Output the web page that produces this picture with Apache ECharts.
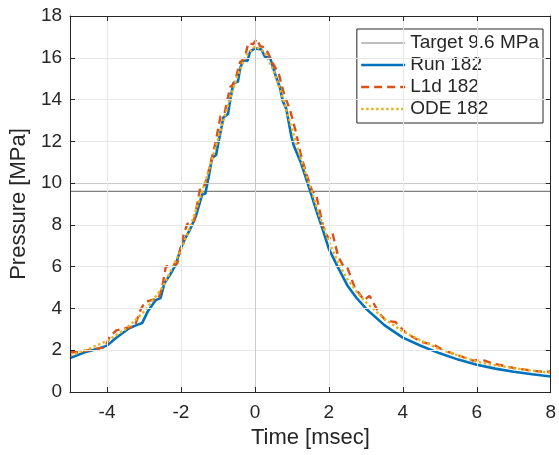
<!DOCTYPE html>
<html>
<head>
<meta charset="utf-8">
<script src="https://cdn.jsdelivr.net/npm/echarts@6/dist/echarts.min.js"></script>
<style>
  html, body { margin: 0; padding: 0; background: #fff; }
  #chart { width: 559px; height: 455px; }
</style>
</head>
<body>
<div id="chart"></div>
<script>
// Axis ranges and labelled ticks
const xRange = [-5, 8];
const yRange = [0, 18];
const xTicks = [-4, -2, 0, 2, 4, 6, 8];
const yTicks = [0, 2, 4, 6, 8, 10, 12, 14, 16, 18];
const xMinorStep = 0.5;
const yMinorStep = 0.4;

// Target pressure level
const targetName = 'Target 9.6 MPa';
const targetPressure = 9.6;

// Measured run
const runName = 'Run 182';
const runTime = [-5, -4.6, -4.2, -4.0, -3.75, -3.4, -3.2, -3.05, -2.9, -2.68, -2.55, -2.45, -2.3, -2.14, -2.0,
  -1.9, -1.75, -1.6, -1.5, -1.43, -1.34, -1.25, -1.16, -1.05, -0.98, -0.85, -0.73, -0.67, -0.58, -0.46,
  -0.4, -0.31, -0.2, -0.13, 0, 0.18, 0.27, 0.41, 0.54, 0.67, 0.76, 0.85, 0.99, 1.05, 1.25, 1.48, 1.66,
  1.83, 2.0, 2.25, 2.5, 2.75, 3.0, 3.5, 4.0, 4.5, 5.0, 5.5, 6.0, 6.5, 7.0, 7.5, 8.0];
const runPressure = [1.62, 1.9, 2.1, 2.22, 2.6, 3.05, 3.2, 3.3, 3.85, 4.4, 4.5, 5.2, 5.6, 6.1, 6.9,
  7.3, 7.8, 8.4, 9.0, 9.45, 9.5, 10.3, 11.2, 11.35, 12.0, 13.15, 13.3, 13.95, 14.8, 14.85,
  15.5, 15.9, 15.85, 16.3, 16.45, 16.4, 16.05, 16.0, 15.25, 14.6, 13.9, 13.55, 12.2, 11.8, 10.95, 9.7, 8.7,
  7.8, 6.85, 5.95, 5.1, 4.5, 4.0, 3.2, 2.6, 2.2, 1.85, 1.55, 1.3, 1.12, 0.97, 0.85, 0.74];

// L1d model
const l1dName = 'L1d 182';
const l1dTime = [-5, -4.8, -4.5, -4.2, -4.05, -3.93, -3.75, -3.5, -3.25, -3.1, -2.98, -2.6, -2.5, -2.41, -2.1,
  -1.95, -1.83, -1.65, -1.47, -1.35, -1.2, -1.07, -0.93, -0.82, -0.67, -0.55, -0.4, -0.28, -0.18, -0.05,
  0.05, 0.14, 0.27, 0.36, 0.5, 0.65, 0.8, 0.95, 1.1, 1.25, 1.4, 1.55, 1.65, 1.85, 2.0, 2.1, 2.25, 2.4, 2.5,
  2.7, 2.95, 3.1, 3.35, 3.55, 3.8, 4.1, 4.5, 4.85, 5.1, 5.5, 5.9, 6.15, 6.4, 7.0, 7.5, 7.85, 8.0];
const l1dPressure = [1.9, 1.9, 2.0, 2.1, 2.12, 2.65, 2.95, 3.05, 3.15, 3.9, 4.3, 4.5, 5.1, 6.0, 6.15,
  7.4, 8.05, 8.15, 9.85, 9.9, 10.95, 11.9, 13.2, 13.35, 14.6, 14.8, 15.8, 15.95, 16.7, 16.65,
  16.9, 16.55, 16.5, 16.2, 15.7, 15.2, 14.2, 13.5, 12.5, 11.3, 10.4, 9.6, 9.5, 7.9, 7.3, 7.6, 6.5, 6.0, 5.95,
  5.0, 4.4, 4.6, 3.8, 3.4, 3.35, 2.8, 2.4, 2.25, 2.0, 1.75, 1.5, 1.55, 1.38, 1.15, 1.02, 0.95, 1.0];

// ODE model
const odeName = 'ODE 182';
const odeTime = [-5, -4.5, -4, -3.5, -3, -2.5, -2, -1.75, -1.5, -1.25, -1, -0.75, -0.5, -0.25, 0, 0.25, 0.5,
  0.75, 1, 1.25, 1.5, 1.75, 2, 2.25, 2.5, 2.75, 3, 3.5, 4, 4.5, 5, 5.5, 6, 6.5, 7, 7.5, 8];
const odePressure = [1.75, 2.05, 2.45, 3.0, 3.85, 5.0, 6.8, 7.9, 9.2, 10.6, 12.1, 13.6, 15.0, 16.1, 16.55, 16.3, 15.4,
  14.1, 12.6, 11.1, 9.8, 8.4, 7.2, 6.2, 5.4, 4.8, 4.3, 3.5, 2.9, 2.45, 2.05, 1.75, 1.45, 1.28, 1.14, 1.02, 0.92];

const zip = (xs, ys) => xs.map((x, i) => [x, ys[i]]);

const FONT = '"Liberation Sans", Arial, Helvetica, sans-serif';
const TEXT = '#262626';
const MAJOR = '#cbcbcb';
const MINOR = '#e8e8e8';

// Line styles shared by each series and its legend entry
const styles = {
  target: { color: '#808080', width: 1.2, type: 'solid' },
  run: { color: '#0072BD', width: 2.6, type: 'solid' },
  l1d: { color: '#D95319', width: 2.4, type: [8, 5] },
  ode: { color: '#EDB120', width: 2.4, type: [2.5, 2.5] }
};

// Split lines every minor step; every few of them fall on a labelled tick and get the major colour
function gridColors(min, step, major) {
  const period = Math.round((major[1] - major[0]) / step);
  const offset = Math.round((major[0] - min) / step) % period;
  const cols = [];
  for (let i = 0; i < period; i++) cols.push(i === offset ? MAJOR : MINOR);
  return cols;
}

const baseAxis = {
  axisLine: { show: true, onZero: false, lineStyle: { color: TEXT, width: 1 } },
  axisTick: { show: true, inside: true, length: 5, lineStyle: { color: TEXT, width: 1 } },
};

const chart = echarts.init(document.getElementById('chart'), null, { renderer: 'canvas' });
chart.setOption({
  animation: false,
  backgroundColor: '#fff',
  grid: { left: 70, right: 4, top: 16, bottom: 63, containLabel: false },
  xAxis: [
    Object.assign({}, baseAxis, {
      type: 'value', position: 'bottom', min: xRange[0], max: xRange[1], interval: xMinorStep,
      axisTick: Object.assign({}, baseAxis.axisTick, { customValues: xTicks }),
      axisLabel: { customValues: xTicks, color: TEXT, fontFamily: FONT, fontSize: 19, margin: 11 },
      splitLine: { show: true, lineStyle: { color: gridColors(xRange[0], xMinorStep, xTicks), width: 1 } },
      name: 'Time [msec]', nameLocation: 'middle', nameGap: 35,
      nameTextStyle: { color: TEXT, fontFamily: FONT, fontSize: 22 },
      z: 5
    }),
    Object.assign({}, baseAxis, {
      type: 'value', position: 'top', min: xRange[0], max: xRange[1], interval: xMinorStep,
      axisTick: Object.assign({}, baseAxis.axisTick, { customValues: xTicks }),
      axisLabel: { show: false }, splitLine: { show: false }, z: 5
    })
  ],
  yAxis: [
    Object.assign({}, baseAxis, {
      type: 'value', position: 'left', min: yRange[0], max: yRange[1], interval: yMinorStep,
      axisTick: Object.assign({}, baseAxis.axisTick, { customValues: yTicks }),
      axisLabel: { customValues: yTicks, color: TEXT, fontFamily: FONT, fontSize: 19, margin: 8 },
      splitLine: { show: true, lineStyle: { color: gridColors(yRange[0], yMinorStep, yTicks), width: 1 } },
      name: 'Pressure [MPa]', nameLocation: 'middle', nameGap: 38,
      nameTextStyle: { color: TEXT, fontFamily: FONT, fontSize: 22 },
      z: 5
    }),
    Object.assign({}, baseAxis, {
      type: 'value', position: 'right', min: yRange[0], max: yRange[1], interval: yMinorStep,
      axisTick: Object.assign({}, baseAxis.axisTick, { customValues: yTicks }),
      axisLabel: { show: false }, splitLine: { show: false }, z: 5
    })
  ],
  legend: {
    orient: 'vertical',
    right: 16, top: 29,
    padding: [4, 4, 4, 3],
    itemWidth: 44, itemHeight: 14, itemGap: 2,
    itemStyle: { opacity: 0 },
    backgroundColor: '#fff',
    borderColor: TEXT, borderWidth: 1,
    textStyle: { color: TEXT, fontFamily: FONT, fontSize: 19, lineHeight: 20 },
    data: [
      { name: targetName, lineStyle: styles.target },
      { name: runName, lineStyle: styles.run },
      { name: l1dName, lineStyle: styles.l1d },
      { name: odeName, lineStyle: styles.ode }
    ]
  },
  series: [
    {
      name: targetName, type: 'line', symbol: 'none', silent: true,
      data: zip(xRange, [targetPressure, targetPressure]),
      lineStyle: styles.target, itemStyle: { color: styles.target.color }
    },
    {
      name: runName, type: 'line', symbol: 'none', silent: true,
      data: zip(runTime, runPressure),
      lineStyle: styles.run, itemStyle: { color: styles.run.color }
    },
    {
      name: l1dName, type: 'line', symbol: 'none', silent: true,
      data: zip(l1dTime, l1dPressure),
      lineStyle: styles.l1d, itemStyle: { color: styles.l1d.color }
    },
    {
      name: odeName, type: 'line', symbol: 'none', silent: true,
      data: zip(odeTime, odePressure),
      lineStyle: styles.ode, itemStyle: { color: styles.ode.color }
    }
  ]
});
</script>
</body>
</html>
